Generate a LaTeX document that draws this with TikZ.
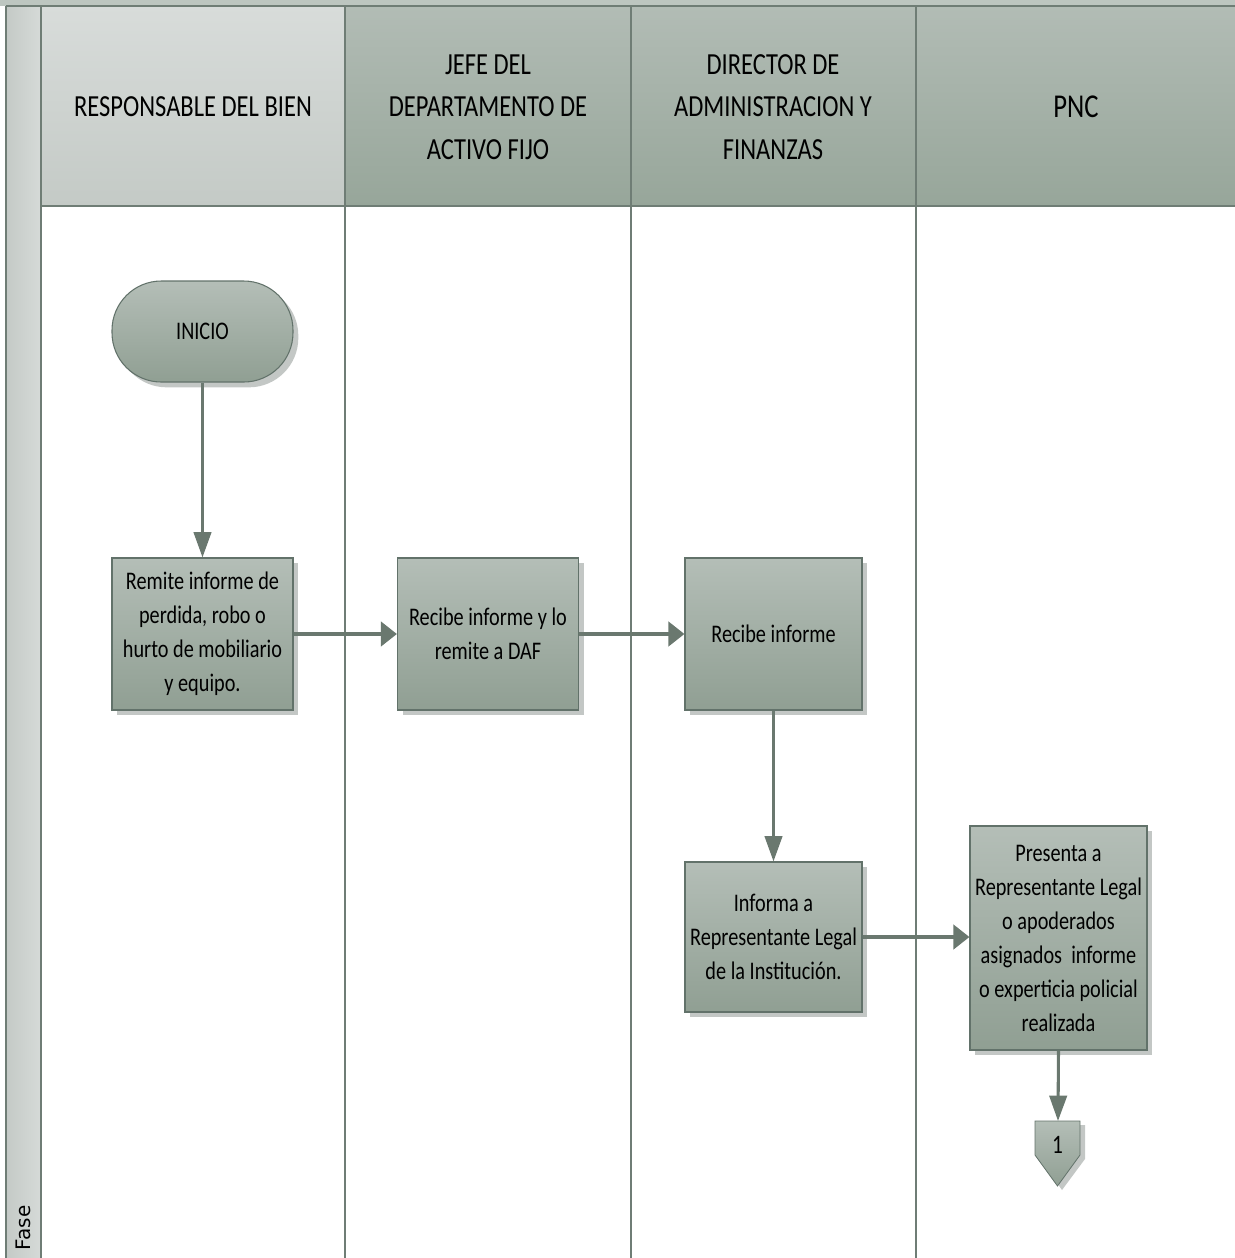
\documentclass[tikz,border=0pt]{standalone}
\usepackage{fontspec}
\setmainfont[FakeStretch=0.8]{Carlito}
\newfontfamily\fasefont{DejaVu Sans}
\usetikzlibrary{arrows.meta,shadows}
\definecolor{laneline}{HTML}{6F7D75}
\definecolor{boxtop}{HTML}{B4BEB7}
\definecolor{boxbot}{HTML}{909F93}
\definecolor{boxedge}{HTML}{62726A}
\definecolor{shadowgray}{HTML}{C3C7C5}
\definecolor{arrowgray}{HTML}{6A786F}
\definecolor{headtop}{HTML}{B2BCB5}
\definecolor{headbot}{HTML}{97A69A}
\definecolor{lighttop}{HTML}{D8DCDA}
\definecolor{lightbot}{HTML}{C4CAC6}
\begin{document}
\begin{tikzpicture}[x=0.75pt,y=-0.75pt,
  lane/.style={draw=laneline,line width=1.6pt},
  headtext/.style={align=center,font=\fontsize{23}{32}\selectfont},
  taskbox/.style={draw=boxedge,line width=0.8pt,top color=boxtop,bottom color=boxbot,
    minimum width=181*0.75pt,minimum height=152*0.75pt,inner sep=1pt,align=center,
    font=\fontsize{19}{25.5}\selectfont,
    drop shadow={shadow xshift=4pt,shadow yshift=-4pt,fill=shadowgray,opacity=1}},
  startbox/.style={draw=boxedge,line width=0.8pt,top color=boxtop,bottom color=boxbot,
    minimum width=181*0.75pt,minimum height=101*0.75pt,rounded corners=37pt,
    font=\fontsize{19}{22}\selectfont,
    drop shadow={shadow xshift=4pt,shadow yshift=-4pt,fill=shadowgray,opacity=1}},
  hflow/.style={draw=arrowgray,line width=3pt,-{Triangle[length=12pt,width=18pt]}},
  vflow/.style={draw=arrowgray,line width=2.3pt,-{Triangle[length=19pt,width=13pt]}}]
\useasboundingbox (0,0) rectangle (1235,1258);

% top band and header cells
\fill[headtop!85!white] (0,0) rectangle (1235,6);
\shade[top color=lighttop,bottom color=lightbot] (41,6) rectangle (345,206);
\shade[top color=headtop,bottom color=headbot] (345,6) rectangle (1235,206);
% phase strip on the left
\shade[left color=lightbot,right color=lighttop!90!lightbot] (6,6) rectangle (41,1258);

% lane borders
\draw[lane] (6,6) -- (1235,6);
\draw[lane] (41,206) -- (1235,206);
\draw[lane] (6,6) -- (6,1258);
\draw[lane] (41,6) -- (41,1258);
\draw[lane] (345,6) -- (345,1258);
\draw[lane] (631,6) -- (631,1258);
\draw[lane] (916,6) -- (916,1258);

% lane titles
\node[headtext] (h1) at (193,107) {RESPONSABLE DEL BIEN};
\node[headtext] (h2) at (488,107) {JEFE DEL\\DEPARTAMENTO DE\\ACTIVO FIJO};
\node[headtext] (h3) at (773,107) {DIRECTOR DE\\ADMINISTRACION Y\\FINANZAS};
\node[headtext,font=\fontsize{25}{32}\selectfont] (h4) at (1076,107) {PNC};
\node[rotate=90,font=\fasefont\fontsize{15}{18}\selectfont] (fase) at (23,1228) {Fase};

% process steps
\node[startbox] (inicio) at (202.5,331.5) {INICIO};
\node[taskbox] (b1) at (202.5,634) {Remite informe de\\perdida, robo o\\hurto de mobiliario\\y equipo.};
\node[taskbox] (b2) at (488,634) {Recibe informe y lo\\remite a DAF};
\node[taskbox,minimum width=177*0.75pt] (b3) at (773.5,634) {Recibe informe};
\node[taskbox,minimum width=177*0.75pt,minimum height=150*0.75pt] (b4) at (773.5,937) {Informa a\\Representante Legal\\de la Institución.};
\node[taskbox,minimum width=177*0.75pt,minimum height=224*0.75pt] (b5) at (1058.5,938) {Presenta a\\Representante Legal\\o apoderados\\asignados\ \ informe\\o experticia policial\\realizada};

% off-page connector
\coordinate (cn) at (1058,1121);
\fill[shadowgray] (1040,1125) -- (1085,1125) -- (1085,1159) -- (1062,1190) -- (1040,1159) -- cycle;
\shade[top color=boxtop,bottom color=boxbot,draw=boxedge,line width=0.6pt]
  (1035,1121) -- (1080,1121) -- (1080,1155) -- (1057.5,1186) -- (1035,1155) -- cycle;
\node[font=\fontsize{20}{22}\selectfont] (c1) at (1057.5,1145) {1};

% connectors
\draw[vflow] (inicio.south) -- (b1.north);
\draw[hflow] (b1.east) -- (b2.west);
\draw[hflow] (b2.east) -- (b3.west);
\draw[vflow] (b3.south) -- (b4.north);
\draw[hflow] (b4.east) -- (b4.east -| b5.west);
\draw[vflow] (b5.south) -- (cn);
\end{tikzpicture}
\end{document}
